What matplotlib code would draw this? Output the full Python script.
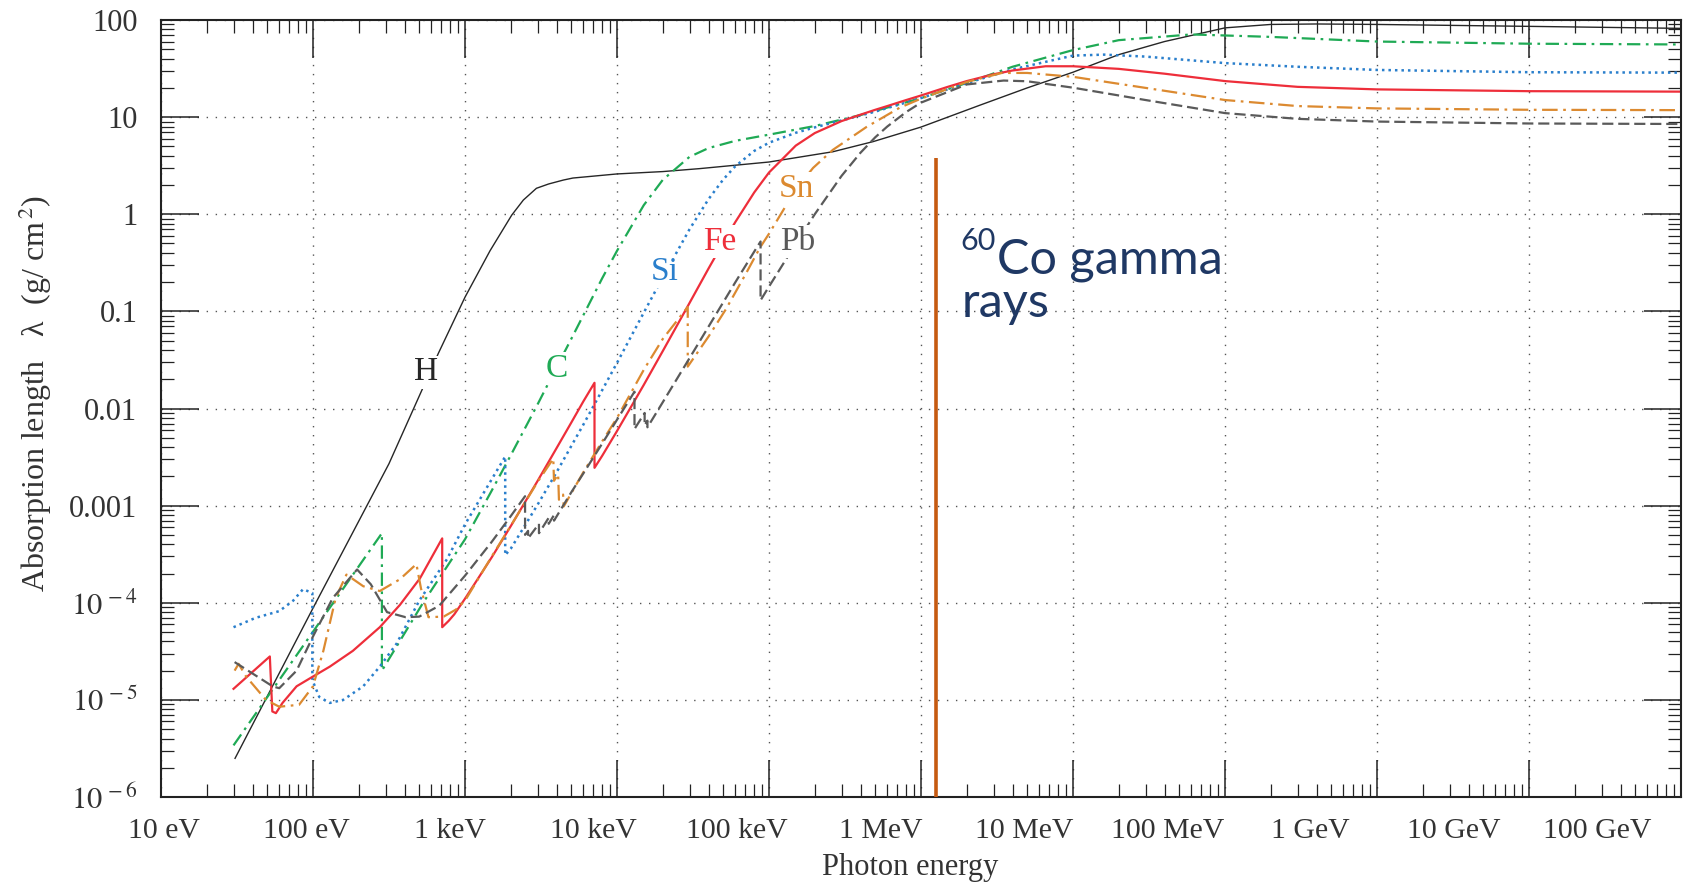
import numpy as np
import matplotlib
matplotlib.use('Agg')
import matplotlib.pyplot as plt
from matplotlib.ticker import LogLocator, NullFormatter

plt.rcParams['font.family'] = ['Liberation Serif', 'DejaVu Serif']
plt.rcParams['mathtext.fontset'] = 'stix'

# photon energy (eV) and absorption length (g/cm^2)
h_energy = [30.7, 100, 316, 668, 1000, 1460, 2030, 2420, 2950, 3550, 4440, 5130,
            10000, 20000, 35000, 100000, 263000, 485000, 1e6, 2.45e6, 5e6, 1e7,
            2e7, 4e7, 1e8, 2e8, 4e8, 1e9, 1e10, 1e11]
h_length = [2.5e-6, 8.8e-5, 2.7e-3, 0.037, 0.14, 0.42, 0.98, 1.4, 1.85, 2.05, 2.25, 2.36,
            2.6, 2.75, 2.95, 3.45, 4.4, 5.6, 7.9, 13.3, 20, 29,
            44, 60, 83, 90, 91, 90, 86, 82]

c_energy = [30, 284, 284, 530, 1000, 1500, 2000, 3000, 4000, 5000, 6000, 8000,
            10000, 15000, 20000, 30000, 40000, 60000, 100000, 200000, 400000,
            1e6, 2e6, 4e6, 1e7, 2e7, 6e7, 2e8, 1e9, 1e10, 1e11]
c_length = [3.4e-6, 5.2e-4, 2.0e-5, 1.0e-4, 4.5e-4, 1.43e-3, 3.3e-3, 0.011, 0.0265, 0.052, 0.091, 0.22,
            0.42, 1.24, 2.26, 3.9, 4.8, 5.7, 6.6, 8.1, 10.5,
            15.7, 22.5, 33, 49, 62, 71, 67, 60, 57, 56]

si_energy = [30, 42, 60, 74, 86, 99, 99, 110, 129, 158, 214, 275, 355, 500, 760,
             1000, 1500, 1839, 1839, 2000, 3000, 4000, 5000, 6000, 8000, 10000,
             15000, 20000, 30000, 40000, 50000, 60000, 80000, 100000, 150000, 200000,
             300000, 500000, 1e6, 2e6, 4e6, 1e7, 1.6e7, 3e7, 1e8, 3e8, 1e9, 1e10, 1e11]
si_length = [5.6e-5, 7.0e-5, 8.2e-5, 1.05e-4, 1.38e-4, 1.26e-4, 1.6e-5, 1.07e-5, 9.3e-6, 1.0e-5,
             1.38e-5, 2.2e-5, 3.8e-5, 1.05e-4, 2.8e-4,
             6.4e-4, 1.87e-3, 3.2e-3, 3.1e-4, 3.6e-4, 1.02e-3, 2.2e-3, 4.1e-3, 6.8e-3, 0.0155, 0.0295,
             0.097, 0.224, 0.70, 1.43, 2.28, 3.12, 4.49, 5.45, 6.9, 7.84,
             9.24, 11.4, 15.7, 22.4, 31, 43, 44, 42, 36, 33, 30.6, 29, 28.7]

fe_energy = [30, 52, 54, 57, 63, 78, 100, 129, 183, 275, 373, 505, 708, 708, 780, 850,
             1000, 1500, 2000, 3000, 4000, 5000, 6000, 7112, 7112, 8000, 10000, 15000,
             20000, 30000, 40000, 50000, 60000, 80000, 100000, 150000, 200000, 300000,
             400000, 500000, 600000, 800000, 1e6, 1.5e6, 2e6, 3e6, 4e6, 6.6e6, 1e7,
             2e7, 4e7, 1e8, 3e8, 1e9, 1e10, 1e11]
fe_length = [1.3e-5, 2.8e-5, 7.6e-6, 7.3e-6, 9.3e-6, 1.38e-5, 1.74e-5, 2.2e-5, 3.2e-5, 5.6e-5,
             9.5e-5, 1.78e-4, 4.6e-4, 5.6e-5, 6.5e-5, 7.6e-5,
             1.1e-4, 2.94e-4, 6.15e-4, 1.79e-3, 3.9e-3, 7.15e-3, 0.0118, 0.0184, 2.45e-3, 3.27e-3,
             5.86e-3, 0.0175, 0.039, 0.122, 0.276, 0.511, 0.83, 1.68, 2.69, 5.09, 6.85, 9.1,
             10.6, 11.9, 13.0, 15.0, 16.7, 20.5, 23.5, 27.6, 30.2, 33.4, 33.4,
             31.4, 28, 23.5, 20.5, 19.3, 18.5, 18.3]

sn_energy = [30.5, 32.4, 36.3, 49, 60, 81, 100, 117, 141, 166, 214, 275, 372, 479, 513,
             575, 724, 871, 1000, 1500, 2000, 3000, 3810, 3850, 4100, 4150, 4420, 4460,
             6000, 8000, 10000, 15000, 20000, 29200, 29200, 40000, 52000, 70000, 87000,
             100000, 124000, 150000, 195000, 263000, 437000, 724000, 1e6, 2e6, 3.4e6,
             5e6, 1e7, 3e7, 1e8, 3e8, 1e9, 1e10, 1e11]
sn_length = [2.0e-5, 2.35e-5, 1.74e-5, 1.0e-5, 8.5e-6, 8.9e-6, 1.38e-5, 3.2e-5, 1.12e-4, 1.95e-4,
             1.48e-4, 1.32e-4, 1.74e-4, 2.5e-4, 1.41e-4,
             7.1e-5, 7.2e-5, 8.5e-5, 1.05e-4, 3.0e-4, 6.2e-4, 1.75e-3, 3.05e-3, 1.8e-3, 2.1e-3,
             1.15e-3, 1.3e-3, 9.8e-4,
             2.2e-3, 4.6e-3, 8.0e-3, 0.025, 0.052, 0.111, 0.027, 0.055, 0.105, 0.24, 0.45,
             0.63, 1.1, 1.8, 3.0, 4.6, 7.9, 12.5, 15.5, 23, 28.5,
             28.5, 26, 20, 15, 13, 12.3, 11.9, 11.8]

pb_energy = [30.5, 54.6, 60, 78, 100, 135, 195, 240, 307, 407, 500, 676, 1000, 1500,
             2000, 2484, 2484, 2600, 2600, 3066, 3066, 3554, 3554, 3851, 3851, 5000,
             6000, 8000, 10000, 13035, 13035, 15200, 15200, 15860, 15860, 20000, 30000,
             40000, 50000, 60000, 80000, 88000, 88000, 100000, 150000, 200000, 300000,
             400000, 500000, 600000, 800000, 1e6, 2e6, 3.5e6, 5e6, 1e7, 3e7, 1e8,
             3e8, 1e9, 1e10, 1e11]
pb_length = [2.45e-5, 1.37e-5, 1.32e-5, 2.0e-5, 4.5e-5, 1.12e-4, 2.2e-4, 1.55e-4, 8.0e-5, 7.1e-5,
             7.2e-5, 9.3e-5, 1.9e-4, 4.24e-4,
             7.8e-4, 1.25e-3, 5.0e-4, 5.5e-4, 4.6e-4, 6.5e-4, 5.2e-4, 7.5e-4, 6.5e-4, 8.0e-4, 7.0e-4,
             1.37e-3, 2.14e-3, 4.37e-3, 7.66e-3, 0.0149, 6.15e-3, 9.0e-3, 6.7e-3, 7.5e-3, 6.4e-3,
             0.0116, 0.033, 0.0696, 0.124, 0.199, 0.413, 0.524, 0.13, 0.18, 0.497, 1.0, 2.48,
             4.3, 6.2, 8.0, 11.3, 14.1, 21.7, 23.8, 23.4, 20.1, 15, 11,
             9.6, 9.0, 8.6, 8.5]

# element labels: (text, energy, length, colour)
element_labels = [('H', 553, 0.0237, '#262626'),
                  ('C', 4010, 0.0259, '#1faa55'),
                  ('Si', 20700, 0.256, '#2a7fcc'),
                  ('Fe', 47600, 0.521, '#ee2e3a'),
                  ('Sn', 150700, 1.85, '#dc8a30'),
                  ('Pb', 153500, 0.521, '#5a5a5a')]

co60_energy = 1.25e6
co60_top = 3.8

y_ticks = [1e-6, 1e-5, 1e-4, 1e-3, 1e-2, 1e-1, 1, 10, 100]
y_tick_labels = [r'$10^{\,-6}$', r'$10^{\,-5}$', r'$10^{\,-4}$', '0.001', '0.01', '0.1', '1', '10', '100']
x_tick_labels = ['10 eV', '100 eV', '1 keV', '10 keV', '100 keV', '1 MeV',
                 '10 MeV', '100 MeV', '1 GeV', '10 GeV', '100 GeV']

W, H = 1688, 884
fig = plt.figure(figsize=(W / 100, H / 100), dpi=100)
ax = fig.add_axes([161 / W, 87 / H, 1520 / W, 777 / H])
ax.set_xscale('log')
ax.set_yscale('log')
ax.set_xlim(10, 1e11)
ax.set_ylim(1e-6, 100)

# curves
ax.plot(h_energy, h_length, color='#262626', lw=1.0)
ax.plot(c_energy, c_length, color='#1faa55', lw=1.6, ls=(0, (6, 2.5, 1.2, 2.5)))
ax.plot(si_energy, si_length, color='#2a7fcc', lw=1.8, ls=(0, (1, 1.6)))
ax.plot(fe_energy, fe_length, color='#ee2e3a', lw=1.6)
ax.plot(sn_energy, sn_length, color='#dc8a30', lw=1.6, ls=(0, (7, 2.5, 1.2, 2.5)))
ax.plot(pb_energy, pb_length, color='#5a5a5a', lw=1.6, ls=(0, (5, 2.2)))

for name, e, lam, col in element_labels:
    ax.text(e, lam, name, color=col, fontsize=24, ha='center', va='center', zorder=5,
            bbox=dict(facecolor='white', edgecolor='none', pad=1.0))

ax.vlines(co60_energy, 1e-6, co60_top, color='#c55a11', lw=2.6, zorder=6)

# axes and ticks
ax.xaxis.set_major_locator(LogLocator(base=10, numticks=30))
ax.xaxis.set_minor_locator(LogLocator(base=10, subs=np.arange(2, 10), numticks=300))
ax.xaxis.set_major_formatter(NullFormatter())
ax.xaxis.set_minor_formatter(NullFormatter())
ax.set_yticks(y_ticks, y_tick_labels)
ax.yaxis.set_minor_locator(LogLocator(base=10, subs=np.arange(2, 10), numticks=300))
ax.yaxis.set_minor_formatter(NullFormatter())
ax.tick_params(which='both', direction='in', top=True, right=True, color='#222222', labelcolor='#333333')
ax.tick_params(which='major', length=27, width=1.1, pad=17, labelsize=22)
ax.tick_params(which='minor', length=9.5, width=0.9)
ax.grid(True, which='major', color='#555555', ls=(0, (1, 5.5)), lw=1.0)
ax.set_axisbelow(True)
for s in ax.spines.values():
    s.set_linewidth(1.5)
    s.set_color('#222222')

# tick labels below the axis sit slightly left of their ticks in the original
for i, lab in enumerate(x_tick_labels):
    fig.text((163.5 + 143.4 * i) / W, 1 - 831 / H, lab, ha='center', va='center',
             fontsize=21.5, color='#333333')

fig.text(910 / W, 1 - 867 / H, 'Photon energy', ha='center', va='center', fontsize=22, color='#333333')
fig.text(35 / W, 1 - 393 / H, 'Absorption length   \u03bb  (g/ cm$^{\\,2}$)', rotation=90,
         ha='center', va='center', fontsize=23, color='#333333')

# 60Co annotation
fig.text(960 / W, 1 - 250 / H, '60', fontsize=22, family='Lato', color='#1f3864', va='baseline')
fig.text(997 / W, 1 - 273 / H, 'Co gamma', fontsize=35, family='Lato', color='#1f3864', va='baseline')
fig.text(962 / W, 1 - 317 / H, 'rays', fontsize=35, family='Lato', color='#1f3864', va='baseline')

fig.savefig('out.png', dpi=100)
